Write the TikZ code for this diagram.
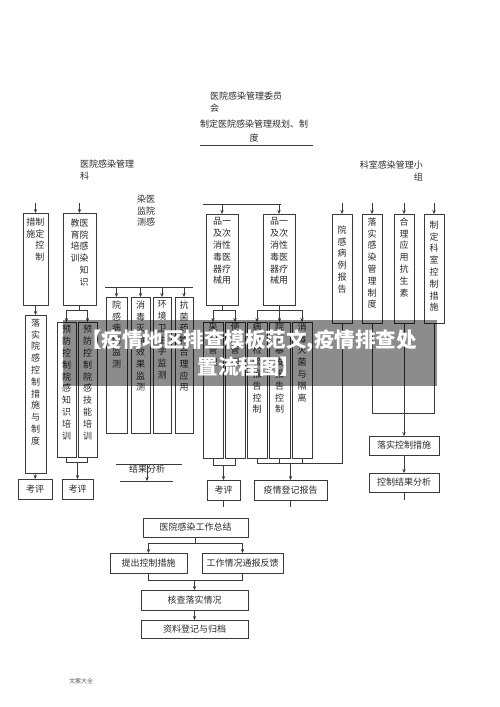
\documentclass[tikz,border=0pt]{standalone}
\usepackage{fontspec}
\newfontfamily\cjk{Noto Sans CJK SC}
\usetikzlibrary{arrows.meta}
\definecolor{ink}{HTML}{3A3A3A}
\definecolor{txt}{HTML}{2A2A2A}
\newcommand\mkbox[8]{%
  \node[bx,minimum width={(#4)-(#2)},minimum height={(#5)-(#3)}] (#1) at ({((#2)+(#4))/2},{((#3)+(#5))/2}) {};
  \node[tx,anchor=north,align=#7] (#1t) at ({((#2)+(#4))/2},{#6}) {#8};}
\newcommand\mkflat[6]{%
  \node[bx,tx,minimum width={(#4)-(#2)},minimum height={(#5)-(#3)}] (#1) at ({((#2)+(#4))/2},{((#3)+(#5))/2}) {#6};}
\begin{document}
\begin{tikzpicture}[x=1pt,y=-1pt,
  bx/.style={draw=ink,line width=0.7pt,inner sep=0pt,outer sep=0pt},
  tx/.style={font=\cjk\fontsize{9}{11.8}\selectfont,text=txt,inner sep=0pt},
  ln/.style={draw=ink,line width=0.7pt},
  arr/.style={ln,-{Stealth[length=4pt,width=3.4pt]}}]
\useasboundingbox (0,0) rectangle (500,707);
\fill[white] (0,0) rectangle (500,707);

% top labels
\node[tx,anchor=north west,align=left] (t1) at (210,91.5) {医院感染管理委员\\会};
\node[tx,anchor=north,align=center] (t2) at (254,119.5) {制定医院感染管理规划、制\\[2pt]度};
\coordinate (l0a) at (200,145); \coordinate (l0b) at (313,145);
\draw[ln] (l0a) -- (l0b);
\node[tx,anchor=north west,align=left] (t3) at (80,159.5) {医院感染管理\\科};
\node[tx,anchor=north east,align=right] (t4) at (423,160.5) {科室感染管理小\\组};
\node[tx,anchor=north,align=right] (t5) at (146,194.5) {染医\\监院\\测感};

% helper rows
\coordinate (j8) at (0,203);
\coordinate (j4) at (0,204);
\coordinate (j1) at (0,310);
\coordinate (j3) at (0,287);
\coordinate (j9) at (0,413);
\coordinate (j2) at (0,462);
\coordinate (j7) at (0,463);
\coordinate (j6) at (0,465);
\coordinate (j10) at (0,543);
\coordinate (j11) at (0,580);

% left group
\mkbox{ba}{23}{213}{48}{305}{217.5}{right}{措制\\施定\\控\\制}
\mkbox{bb}{63}{213}{96}{305}{218.5}{right}{教医\\育院\\培感\\训染\\知\\识}
\mkbox{bc}{25}{315}{46}{473}{318.5}{center}{落\\实\\院\\感\\控\\制\\措\\施\\与\\制\\度}
\mkflat{k1}{18}{479}{52}{499}{考评}
\mkbox{bd}{57}{322}{76}{457}{325.5}{center}{预\\防\\控\\制\\院\\感\\知\\识\\培\\训}
\mkbox{be}{78}{322}{97}{457}{325.5}{center}{预\\防\\控\\制\\院\\感\\技\\能\\培\\训}
\mkflat{k2}{62}{479}{93}{499}{考评}

\draw[arr] (ba.north |- j8) -- (ba.north);
\draw[arr] (bb.north |- j8) -- (bb.north);
\draw[arr] (ba.south) -- (bc.north);
\draw[arr] (bc.south) -- (k1.north);
\draw[ln] (bb.south) -- (bb.south |- j1);
\draw[ln] (bd.north |- j1) -- (be.north |- j1);
\draw[arr] (bd.north |- j1) -- (bd.north);
\draw[arr] (be.north |- j1) -- (be.north);
\draw[ln] (bd.south) -- (bd.south |- j2) -- (be.south |- j2) -- (be.south);
\draw[arr] (k2.north |- j2) -- (k2.north);

% monitoring columns
\mkbox{g1}{106}{297}{127}{433}{300.5}{center}{院\\感\\病\\例\\监\\测}
\mkbox{g2}{131}{297}{150}{433}{300.5}{center}{消\\毒\\灭\\菌\\效\\果\\监\\测}
\mkbox{g3}{153}{297}{171}{433}{300.5}{center}{环\\境\\卫\\生\\学\\监\\测}
\mkbox{g4}{175}{297}{193}{433}{300.5}{center}{抗\\菌\\药\\物\\合\\理\\应\\用}
\coordinate (gl) at (105,287); \coordinate (gr) at (193,287);
\draw[ln] (gl) -- (gr);
\draw[arr] (g1.north |- j3) -- (g1.north);
\draw[arr] (g2.north |- j3) -- (g2.north);
\draw[arr] (g3.north |- j3) -- (g3.north);
\draw[arr] (g4.north |- j3) -- (g4.north);
\coordinate (ra1) at (116,464); \coordinate (ra2) at (182,464);
\coordinate (rb1c) at (120,481); \coordinate (rb2c) at (173,481);
\coordinate (rcc) at (147,464);
\node[tx] (jg) at (147,469.5) {结果分析};
\draw[ln] (ra1) -- (ra2);
\draw[ln] (rb1c) -- (rb2c);
\draw[arr] (rcc) -- (rcc |- rb1c);

% middle group
\mkbox{ma}{206}{214}{238}{305}{217.5}{right}{品一\\及次\\消性\\毒医\\器疗\\械用}
\mkbox{mb}{263}{214}{295}{305}{217.5}{right}{品一\\及次\\消性\\毒医\\器疗\\械用}
\coordinate (m4a) at (203,204); \coordinate (m4b) at (281,204);
\draw[ln] (m4a) -- (m4b);
\draw[arr] (ma.north |- j4) -- (ma.north);
\draw[arr] (mb.north |- j4) -- (mb.north);

\mkbox{ma1}{203}{322}{223}{458}{322.5}{center}{采\\购\\管\\理}
\mkbox{ma2}{225}{322}{245}{458}{322.5}{center}{使\\用\\管\\理}
\mkbox{mb1}{247}{322}{267}{458}{322.5}{center}{病\\原\\检\\验\\报\\告\\控\\制}
\mkbox{mb2}{269}{322}{290}{458}{322.5}{center}{院\\感\\暴\\发\\报\\告\\控\\制}
\mkbox{mb3}{292}{322}{312}{458}{322.5}{center}{消\\毒\\灭\\菌\\与\\隔\\离}

\draw[ln] (ma.south) -- (ma.south |- j1);
\draw[ln] (ma1.north |- j1) -- (ma2.north |- j1);
\draw[arr] (ma1.north |- j1) -- (ma1.north);
\draw[arr] (ma2.north |- j1) -- (ma2.north);
\draw[ln] (mb.south) -- (mb.south |- j1);
\draw[ln] (mb1.north |- j1) -- (mb3.north |- j1);
\draw[arr] (mb1.north |- j1) -- (mb1.north);
\draw[arr] (mb2.north |- j1) -- (mb2.north);
\draw[arr] (mb3.north |- j1) -- (mb3.north);

\mkflat{k3}{207}{480}{240}{500}{考评}
\mkflat{rep}{254}{480}{327}{500}{疫情登记报告}
\draw[ln] (ma1.south) -- (ma1.south |- j6) -- (ma2.south |- j6) -- (ma2.south);
\draw[arr] (k3.north |- j6) -- (k3.north);

% right group
\mkbox{rb1}{332}{214}{352}{323}{225.5}{center}{院\\感\\病\\例\\报\\告}
\mkbox{rb2}{362}{214}{382}{323}{217.5}{center}{落\\实\\感\\染\\管\\理\\制\\度}
\mkbox{rb3}{394}{214}{414}{323}{217.5}{center}{合\\理\\应\\用\\抗\\生\\素}
\mkbox{rb4}{424}{214}{444}{323}{220.5}{center}{制\\定\\科\\室\\控\\制\\措\\施}
\draw[arr] (rb1.north |- j8) -- (rb1.north);
\draw[arr] (rb2.north |- j8) -- (rb2.north);
\draw[arr] (rb3.north |- j8) -- (rb3.north);
\draw[arr] (rb4.north |- j8) -- (rb4.north);

\draw[ln] (mb1.south) -- (mb1.south |- j7) -- (rb1.south |- j7) -- (rb1.south);
\draw[ln] (mb2.south) -- (mb2.south |- j7);
\draw[ln] (mb3.south) -- (mb3.south |- j7);
\draw[arr] (rep.north |- j7) -- (rep.north);
\draw[ln] (k3.south) -- ++(0,7);
\draw[ln] (rep.south) -- ++(0,7);

\mkflat{rc}{369}{436}{439}{455}{落实控制措施}
\mkflat{rd}{369}{473}{439}{492}{控制结果分析}
\draw[ln] (rb2.south) -- (rb2.south |- j9) -- (rb4.south |- j9) -- (rb4.south);
\draw[arr] (rb3.south) -- (rc.north);
\draw[arr] (rc.south) -- (rd.north);
\draw[ln] (rd.south) -- ++(0,8);

% bottom chain
\mkflat{s1}{143}{518}{248}{537}{医院感染工作总结}
\mkflat{s2}{110}{553}{187}{573}{提出控制措施}
\mkflat{s3}{202}{553}{283}{573}{工作情况通报反馈}
\mkflat{s4}{141}{590}{248}{610}{核查落实情况}
\mkflat{s5}{141}{620}{248}{638}{资料登记与归档}
\draw[ln] (s1.south) -- (s1.south |- j10);
\draw[ln] (s2.north |- j10) -- (s3.north |- j10);
\draw[arr] (s2.north |- j10) -- (s2.north);
\draw[arr] (s3.north |- j10) -- (s3.north);
\draw[ln] (s2.south) -- (s2.south |- j11) -- (s3.south |- j11) -- (s3.south);
\draw[arr] (s4.north |- j11) -- (s4.north);
\draw[arr] (s4.south) -- (s5.north);

% footer
\node[font=\cjk\fontsize{6}{7}\selectfont,text=black!65] (ft) at (81,681) {文案大全};

% banner overlay
\fill[black,opacity=0.45] (63,320) rectangle (437,386);
\node[font=\cjk\bfseries\fontsize{20.5}{27}\selectfont,text=white,align=center,inner sep=0pt] (ban) at (249,353) {【疫情地区排查模板范文,疫情排查处\\置流程图】};
\end{tikzpicture}
\end{document}
